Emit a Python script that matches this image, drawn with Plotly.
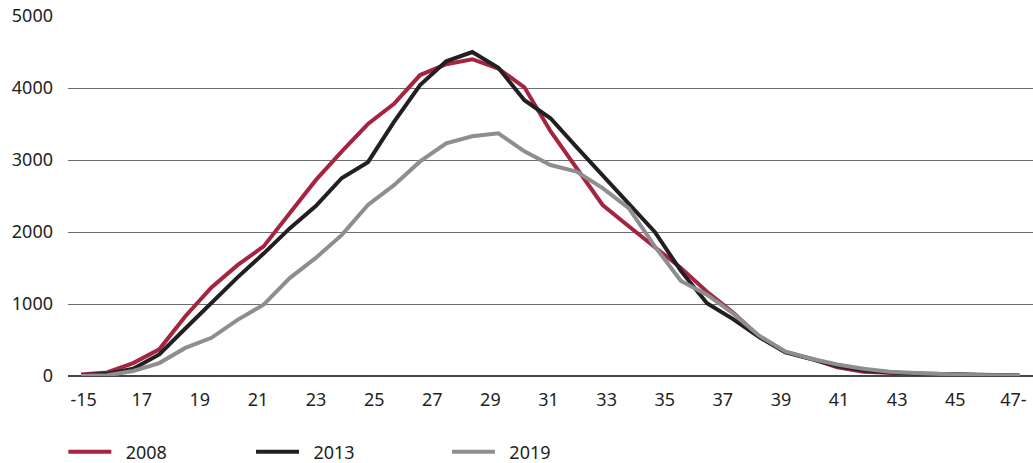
import plotly.graph_objects as go

# data points (37 equally spaced points along the axis)
point_index = list(range(37))

s2008 = [20, 50, 180, 370, 830, 1230, 1540, 1800, 2260, 2720, 3120, 3500, 3780,
         4180, 4330, 4400, 4270, 4010, 3400, 2880, 2375, 2080, 1790, 1500, 1170,
         880, 545, 330, 240, 120, 60, 40, 30, 20, 15, 10, 5]
s2013 = [10, 30, 100, 300, 660, 1010, 1370, 1700, 2050, 2360, 2750, 2970, 3530,
         4040, 4370, 4500, 4280, 3830, 3580, 3180, 2780, 2400, 2000, 1460, 1010,
         790, 540, 330, 230, 140, 80, 50, 35, 25, 15, 10, 5]
s2019 = [5, 10, 70, 180, 390, 530, 780, 990, 1360, 1640, 1960, 2375, 2650,
         2980, 3230, 3330, 3370, 3120, 2930, 2840, 2610, 2330, 1800, 1320, 1130,
         870, 560, 340, 240, 160, 100, 60, 40, 25, 15, 10, 5]

tick_labels = ["-15", "17", "19", "21", "23", "25", "27", "29", "31", "33",
               "35", "37", "39", "41", "43", "45", "47-"]
y_ticks = [0, 1000, 2000, 3000, 4000, 5000]

series = [("2008", s2008, "#A5243F"), ("2013", s2013, "#231F20"), ("2019", s2019, "#8E8E90")]
legend_ids = ["legend", "legend2", "legend3"]
legend_x = [0.0613, 0.2430, 0.4327]

fig = go.Figure()
for (name, vals, col), lid in zip(series, legend_ids):
    fig.add_trace(go.Scatter(x=point_index, y=vals, mode="lines",
                             name="\u00a0\u00a0" + name,
                             legend=lid, line=dict(color=col, width=4)))

# label positions spread evenly across the axis
step = 2.228
tick_pos = [0.1 + step * k for k in range(len(tick_labels))]

font = dict(family="Noto Sans, Open Sans, sans-serif", size=18, color="#231F20")

def leg(x):
    return dict(orientation="h", xref="container", yref="container",
                x=x, y=0.0238, xanchor="left", yanchor="middle",
                itemwidth=43, font=font, bgcolor="rgba(0,0,0,0)")

fig.update_layout(
    width=1033, height=463,
    margin=dict(l=68, r=0, t=16, b=87),
    paper_bgcolor="white", plot_bgcolor="white",
    font=font,
    showlegend=True,
    legend=leg(legend_x[0]),
    legend2=leg(legend_x[1]),
    legend3=leg(legend_x[2]),
    xaxis=dict(range=[-0.5, 36.5], tickvals=tick_pos, ticktext=tick_labels,
               showgrid=False, zeroline=False, showline=False, ticks="",
               ticklabelstandoff=11),
    yaxis=dict(range=[0, 5000], tickvals=y_ticks, showgrid=True,
               gridcolor="#6E6E6E", gridwidth=1, zeroline=True,
               zerolinecolor="#444444", zerolinewidth=2, ticks="",
               ticklabelstandoff=14),
)

fig.write_html("out.html", config={"displayModeBar": False},
               post_script="document.body.style.margin='0';")
